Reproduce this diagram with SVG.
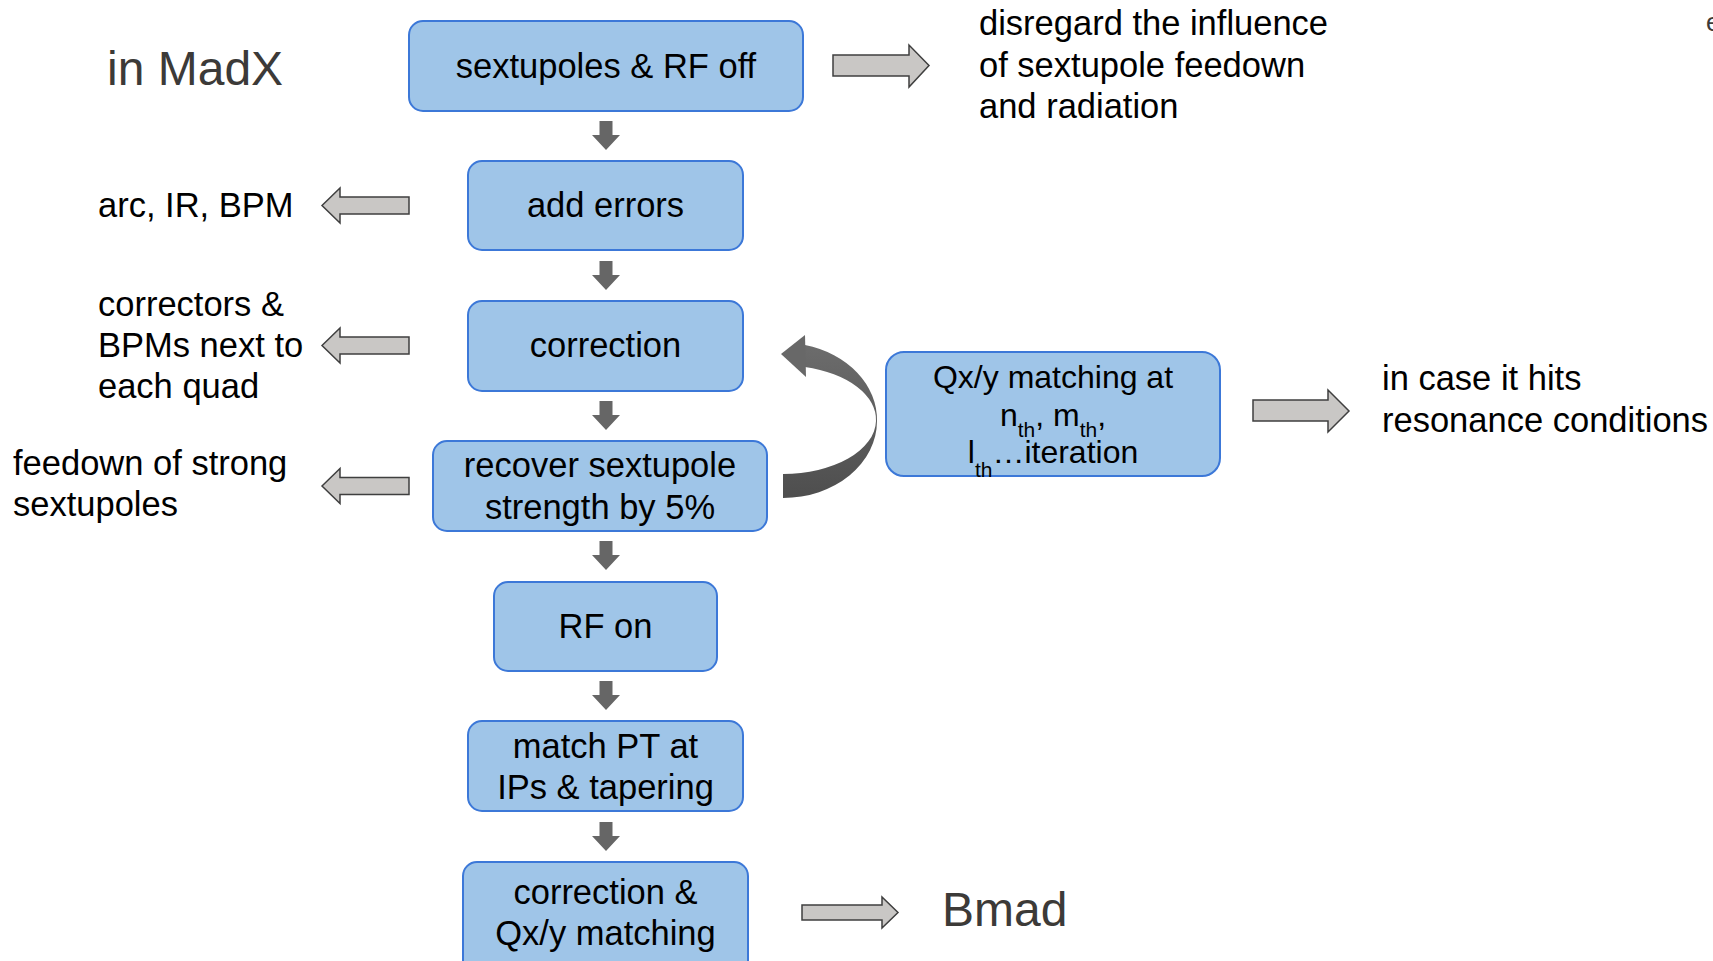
<svg xmlns="http://www.w3.org/2000/svg" width="1713" height="961" viewBox="0 0 1713 961">
<defs>
<style>
text{font-family:"Liberation Sans",Arial,sans-serif;font-size:34.5px;fill:#000}
.box{fill:#9fc5e8;stroke:#3c78d8;stroke-width:2}
.ctr{text-anchor:middle}
.big{font-size:48px;fill:#3c3a38}
.qx{font-size:32px}
.sub{font-size:21px}
.down{fill:#666666}
.side{fill:#c9c7c5;stroke:#3f3f3f;stroke-width:1.5;stroke-linejoin:miter}
</style>
<path id="dn" d="M-6.5,0 H6.5 V14 H14 L0,29 L-14,14 H-6.5 Z"/>
<path id="lf" d="M0,0 L18,-17.5 V-8.5 H87 V8.5 H18 V17.5 Z"/>
<linearGradient id="cg" x1="0" y1="0" x2="0" y2="1">
<stop offset="0" stop-color="#6c6c6c"/>
<stop offset="1" stop-color="#4e4e4e"/>
</linearGradient>
</defs>
<rect width="1713" height="961" fill="#ffffff"/>

<g id="labels">
<text class="big" x="107" y="85">in MadX</text>
<text x="98" y="217">arc, IR, BPM</text>
<text x="98" y="316">correctors &amp;</text>
<text x="98" y="357">BPMs next to</text>
<text x="98" y="398">each quad</text>
<text x="13" y="475">feedown of strong</text>
<text x="13" y="516">sextupoles</text>
<text x="979" y="35">disregard the influence</text>
<text x="979" y="77">of sextupole feedown</text>
<text x="979" y="118">and radiation</text>
<text x="1382" y="390">in case it hits</text>
<text x="1382" y="432">resonance conditions</text>
<text class="big" x="942" y="926">Bmad</text>
<text x="1706" y="31" style="font-size:26px;fill:#3c3a38">e</text>
</g>

<g id="n1">
<rect class="box" x="409" y="21" width="394" height="90" rx="14"/>
<text class="ctr" x="606" y="78">sextupoles &amp; RF off</text>
</g>
<g id="n2">
<rect class="box" x="468" y="161" width="275" height="89" rx="14"/>
<text class="ctr" x="605.5" y="217">add errors</text>
</g>
<g id="n3">
<rect class="box" x="468" y="301" width="275" height="90" rx="14"/>
<text class="ctr" x="605.5" y="357">correction</text>
</g>
<g id="n4">
<rect class="box" x="433" y="441" width="334" height="90" rx="14"/>
<text class="ctr" x="600" y="477">recover sextupole</text>
<text class="ctr" x="600" y="519">strength by 5%</text>
</g>
<g id="n5">
<rect class="box" x="494" y="582" width="223" height="89" rx="14"/>
<text class="ctr" x="605.5" y="638">RF on</text>
</g>
<g id="n6">
<rect class="box" x="468" y="721" width="275" height="90" rx="14"/>
<text class="ctr" x="605.5" y="758">match PT at</text>
<text class="ctr" x="605.5" y="799">IPs &amp; tapering</text>
</g>
<g id="n7">
<rect class="box" x="463" y="862" width="285" height="120" rx="14"/>
<text class="ctr" x="605.5" y="904">correction &amp;</text>
<text class="ctr" x="605.5" y="945">Qx/y matching</text>
</g>
<g id="n8">
<rect class="box" x="886" y="352" width="334" height="124" rx="18"/>
<text class="ctr qx" x="1053" y="388">Qx/y matching at</text>
<text class="ctr qx" x="1053" y="426">n<tspan class="sub" dy="11">th</tspan><tspan dy="-11">, m</tspan><tspan class="sub" dy="11">th</tspan><tspan dy="-11">,</tspan></text>
<text class="ctr qx" x="1053" y="463">l<tspan class="sub" dy="14">th</tspan><tspan dy="-14">…iteration</tspan></text>
</g>

<g id="connectors">
<use href="#dn" class="down" x="606" y="121"/>
<use href="#dn" class="down" x="606" y="261"/>
<use href="#dn" class="down" x="606" y="401"/>
<use href="#dn" class="down" x="606" y="541"/>
<use href="#dn" class="down" x="606" y="681"/>
<use href="#dn" class="down" x="606" y="822"/>
<use href="#lf" class="side" x="322" y="205.5"/>
<use href="#lf" class="side" x="322" y="345.5"/>
<use href="#lf" class="side" x="322" y="486"/>
<path class="side" d="M833,55 H909 V45 L929,65.5 L909,87 V76 H833 Z"/>
<path class="side" d="M1253,400 H1328 V390 L1349,411 L1328,432 V421 H1253 Z"/>
<path class="side" d="M802,905 H882 V897 L898,912.5 L882,928 V920 H802 Z"/>
<path fill="url(#cg)" d="M805,345 A94,77 0 0 1 877,421 A94,77 0 0 1 783,498 L783,474 A93,54 0 0 0 876,421 A93,54 0 0 0 805,367 Z"/>
<path fill="#686868" d="M781,354 L805,335 L806,377 Z"/>
</g>
</svg>
